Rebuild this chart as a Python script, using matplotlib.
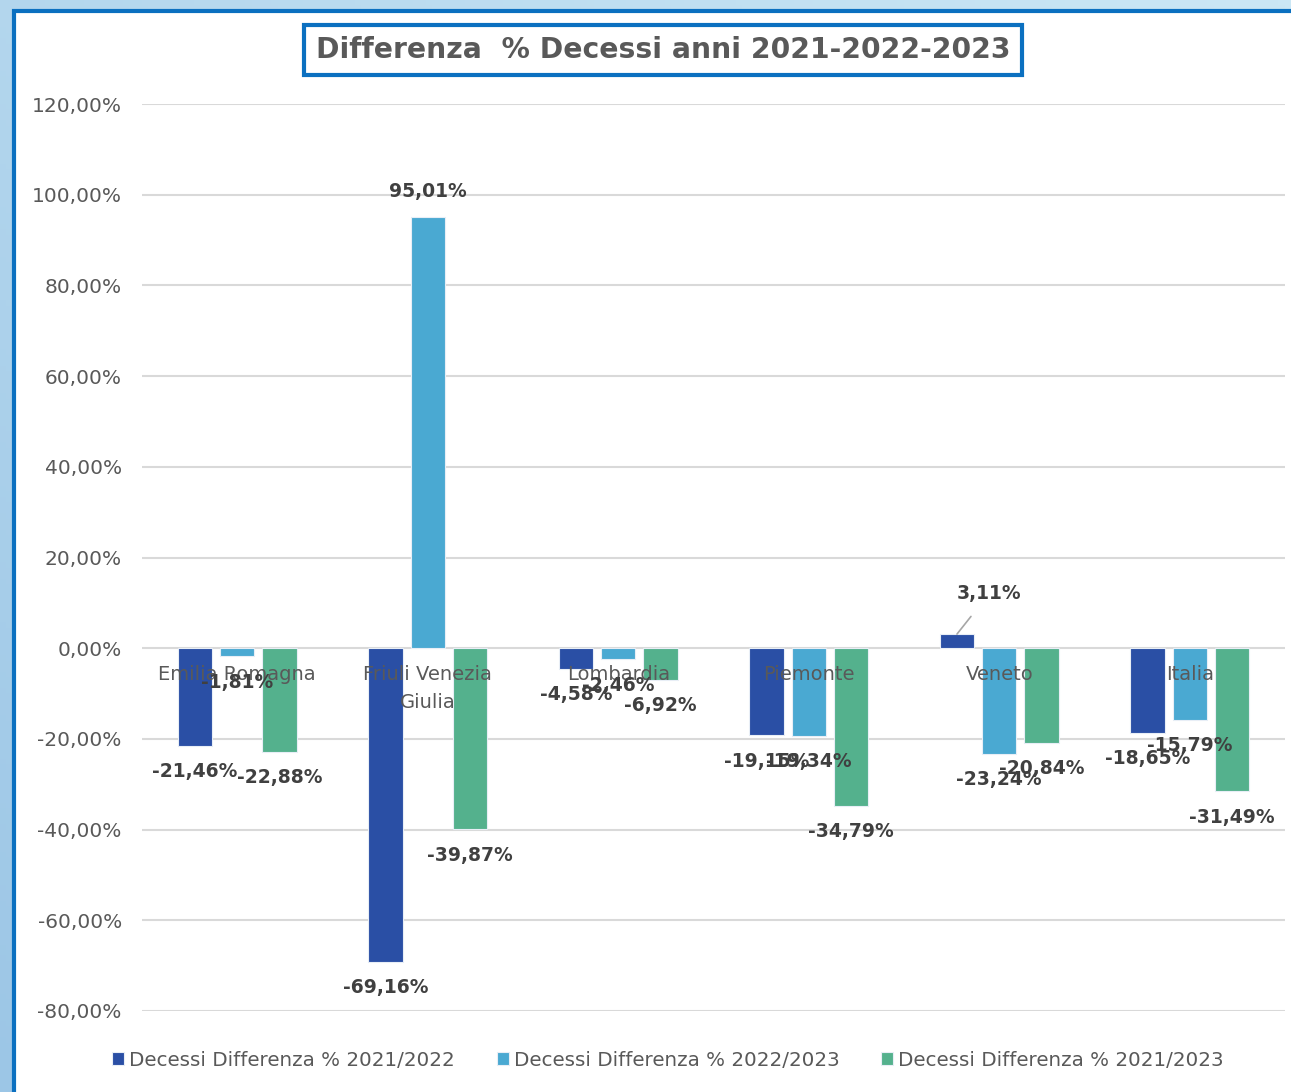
import matplotlib.pyplot as plt
import matplotlib.patches as patches
import numpy as np

# dati
regioni = ['Emilia Romagna', 'Friuli Venezia\nGiulia', 'Lombardia', 'Piemonte', 'Veneto', 'Italia']
diff_21_22 = [-21.46, -69.16, -4.58, -19.15, 3.11, -18.65]
diff_22_23 = [-1.81, 95.01, -2.46, -19.34, -23.24, -15.79]
diff_21_23 = [-22.88, -39.87, -6.92, -34.79, -20.84, -31.49]
serie = ['Decessi Differenza % 2021/2022', 'Decessi Differenza % 2022/2023', 'Decessi Differenza % 2021/2023']
colori = ['#2A4FA5', '#4AA9D2', '#54B18D']
y_ticks = [-80, -60, -40, -20, 0, 20, 40, 60, 80, 100, 120]

def fmt(v):
    return f'{v:.2f}'.replace('.', ',') + '%'

fig = plt.figure(figsize=(12.91, 10.92), dpi=100)

# sfondo azzurro sfumato + pannello bianco con bordo blu
bg = fig.add_axes([0, 0, 1, 1], zorder=-10)
gx, gy = np.meshgrid(np.linspace(0, 1, 200), np.linspace(0, 1, 200))
grad = 0.5 * gx + 0.5 * (1 - gy)
bg.imshow(grad, cmap=plt.matplotlib.colors.LinearSegmentedColormap.from_list('g', ['#9CC6E6', '#CBE7F5']),
          extent=[0, 1, 0, 1], aspect='auto', origin='upper')
bg.set_xlim(0, 1)
bg.set_ylim(0, 1)
bg.axis('off')
bg.add_patch(patches.Rectangle((13.5 / 1291, -0.1), 1.2, 1 - 10.5 / 1092 + 0.1,
                               facecolor='white', edgecolor='#0B70C0', linewidth=3))

ax = fig.add_axes([142 / 1291, 1 - 1011 / 1092, (1285 - 142) / 1291, (1011 - 104) / 1092])
ax.set_facecolor('none')

x = np.arange(len(regioni))
w = 0.18
off = 0.222
tutte = [diff_21_22, diff_22_23, diff_21_23]
for k, (vals, col, nome) in enumerate(zip(tutte, colori, serie)):
    pos = x + (k - 1) * off
    ax.bar(pos, vals, width=w, color=col, edgecolor='#E8EEF6', linewidth=0.8, label=nome, zorder=3)
    for px, v in zip(pos, vals):
        if k == 0 and v > 0:
            # etichetta spostata con linea guida (Veneto)
            ax.annotate(fmt(v), xy=(px, v), xytext=(px + 0.17, v + 9), ha='center', va='center',
                        fontsize=13.5, fontweight='bold', color='#404040', zorder=5,
                        arrowprops=dict(arrowstyle='-', color='#A6A6A6', lw=1.2,
                                        shrinkA=10, shrinkB=0))
            continue
        dy = 26 if v >= 0 else -26
        ax.annotate(fmt(v), xy=(px, v), xytext=(0, dy), textcoords='offset pixels',
                    ha='center', va='center', fontsize=13.5, fontweight='bold',
                    color='#404040', zorder=5)

# etichette categorie sotto la linea dello zero
for xi, nome in zip(x, regioni):
    ax.annotate(nome, xy=(xi, 0), xytext=(0, -17), textcoords='offset pixels',
                ha='center', va='top', fontsize=14, color='#595959', zorder=4,
                linespacing=1.6)

ax.set_xlim(-0.5, len(regioni) - 0.5)
ax.set_ylim(-80, 120)
ax.set_yticks(y_ticks)
ax.set_yticklabels([fmt(t) for t in y_ticks], fontsize=14.5, color='#595959')
ax.set_xticks([])
ax.tick_params(axis='y', length=0, pad=14.5)
ax.grid(axis='y', color='#D9D9D9', linewidth=1.5, zorder=0)
ax.set_axisbelow(True)
for s in ax.spines.values():
    s.set_visible(False)

fig.text(663 / 1291, 1 - 50 / 1092, 'Differenza  % Decessi anni 2021-2022-2023',
         ha='center', va='center', fontsize=20.3, fontweight='bold', color='#595959',
         bbox=dict(boxstyle='square,pad=0.4', facecolor='white', edgecolor='#0B70C0', linewidth=3))

fig.legend(loc='center', bbox_to_anchor=(668 / 1291, 1 - 1060 / 1092), ncol=3, frameon=False,
           handlelength=0.6, handleheight=0.6, handletextpad=0.25, columnspacing=2.1,
           prop={'size': 14.3}, labelcolor='#595959')

fig.savefig('out.png', dpi=100)
